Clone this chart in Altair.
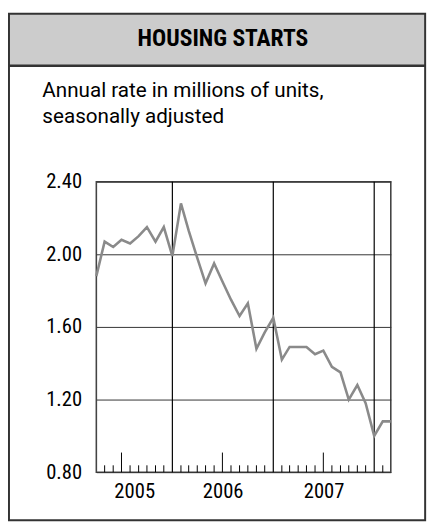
import altair as alt
import pandas as pd

title_text = "HOUSING STARTS"
subtitle_lines = ["Annual rate in millions of units,", "seasonally adjusted"]

# Monthly values (annual rate, millions), first point at 2005-04-01
start_month = "2005-04-01"
values = [1.88, 2.07, 2.04, 2.08, 2.06, 2.10, 2.15, 2.07, 2.15,
          1.99, 2.28, 2.13, 1.98, 1.84, 1.95, 1.85, 1.75, 1.66, 1.73, 1.48, 1.57,
          1.65, 1.42, 1.49, 1.49, 1.49, 1.45, 1.47, 1.38, 1.35, 1.20, 1.28, 1.18,
          1.00, 1.08, 1.08]

y_ticks = [0.8, 1.2, 1.6, 2.0, 2.4]
year_label_dates = ["2005-08-16", "2006-07-02", "2007-07-02"]
year_lines = ["2006-01-01", "2007-01-01", "2008-01-01"]
tick_range = ("2005-05-01", "2008-02-01")

FONT = "Noto Sans Condensed, Noto Sans ExtraCondensed, Roboto Condensed, Roboto, sans-serif"
SUB_FONT = "Roboto, Liberation Sans, sans-serif"
W, H = 300, 296

dates = pd.date_range(start_month, periods=len(values), freq="MS")
df = pd.DataFrame({"date": dates.strftime("%Y-%m-%d"), "value": values})

months = pd.date_range(tick_range[0], tick_range[1], freq="MS")
short_ticks = pd.DataFrame({"date": [d.strftime("%Y-%m-%d") for d in months if d.month not in (1, 7)]})
tall_ticks = pd.DataFrame({"date": [d.strftime("%Y-%m-%d") for d in months if d.month == 7]})
year_df = pd.DataFrame({"date": year_lines})


def dt(s):
    y, m, d = (int(p) for p in s.split("-"))
    return alt.DateTime(year=y, month=m, date=d, utc=True)


xscale = alt.Scale(type="utc", domain=[dt("2005-04-01"), dt("2008-03-01")])
yscale = alt.Scale(domain=[0.8, 2.4], zero=False, nice=False)

x_axis = alt.Axis(values=[dt(s) for s in year_label_dates],
                  labelExpr="utcFormat(datum.value, '%Y')",
                  title=None, grid=False, ticks=False, domain=False,
                  labelFont=FONT, labelFontSize=21, labelColor="black",
                  labelPadding=9, labelFlush=False)
y_axis = alt.Axis(values=y_ticks, format=".2f", title=None, grid=True,
                  gridColor="#333333", gridWidth=1, ticks=False, domain=False,
                  labelFont=FONT, labelFontSize=21, labelColor="black",
                  labelPadding=15)

one = pd.DataFrame({"k": [0]})

header = alt.Chart(one).mark_rect(fill="#cccccc", strokeWidth=0).encode(
    x=alt.value(-89), x2=alt.value(335), y=alt.value(-171), y2=alt.value(-118))
frame = alt.Chart(one).mark_rect(fillOpacity=0, stroke="#333333", strokeWidth=2).encode(
    x=alt.value(-89), x2=alt.value(335), y=alt.value(-171), y2=alt.value(345))
header_line = alt.Chart(one).mark_rule(stroke="#333333", strokeWidth=2.5).encode(
    x=alt.value(-89), x2=alt.value(335), y=alt.value(-118))

title = alt.Chart(pd.DataFrame({"t": [title_text]})).mark_text(
    font=FONT, fontSize=24, fontWeight="bold", align="center", baseline="middle", color="black"
).encode(x=alt.value(129), y=alt.value(-145), text="t:N")

sub1 = alt.Chart(pd.DataFrame({"t": [subtitle_lines[0]]})).mark_text(
    font=SUB_FONT, fontSize=21, align="left", baseline="alphabetic", color="black"
).encode(x=alt.value(-55), y=alt.value(-86), text="t:N")
sub2 = alt.Chart(pd.DataFrame({"t": [subtitle_lines[1]]})).mark_text(
    font=SUB_FONT, fontSize=21, align="left", baseline="alphabetic", color="black"
).encode(x=alt.value(-55), y=alt.value(-60), text="t:N")

line = alt.Chart(df).mark_line(color="#8a8a8a", strokeWidth=2.6).encode(
    x=alt.X("date:T", scale=xscale, axis=x_axis),
    y=alt.Y("value:Q", scale=yscale, axis=y_axis),
)

years = alt.Chart(year_df).mark_rule(color="black", strokeWidth=1.2).encode(
    x=alt.X("date:T", scale=xscale), y=alt.value(0), y2=alt.value(H))
short = alt.Chart(short_ticks).mark_rule(color="black", strokeWidth=1).encode(
    x=alt.X("date:T", scale=xscale), y=alt.value(H - 7), y2=alt.value(H))
tall = alt.Chart(tall_ticks).mark_rule(color="black", strokeWidth=1).encode(
    x=alt.X("date:T", scale=xscale), y=alt.value(H - 20), y2=alt.value(H))

chart = alt.layer(header, frame, header_line, title, sub1, sub2, years, short, tall, line).properties(
    width=W, height=H,
    padding={"left": 90, "top": 172, "right": 43, "bottom": 56},
    autosize=alt.AutoSizeParams(type="none"),
    background="white",
).configure_view(stroke="#444444", strokeWidth=1.6)

chart.save("out.html", embed_options={"renderer": "svg", "actions": False})
